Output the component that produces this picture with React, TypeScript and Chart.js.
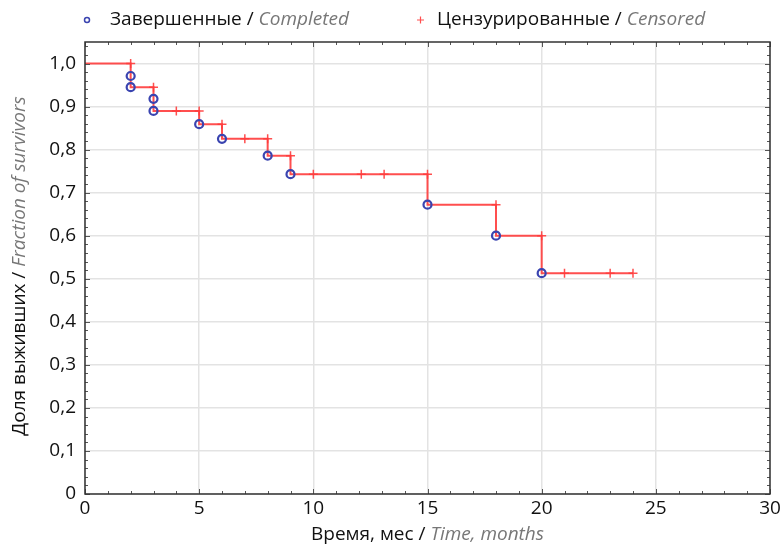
import React, { useEffect, useRef } from "react";
import { Chart, registerables } from "chart.js";

Chart.register(...registerables);

// ---- data ----
const eventTimes = [2, 2, 3, 3, 5, 6, 8, 9, 15, 18, 20];
const eventSurvival = [0.971, 0.945, 0.918, 0.89, 0.859, 0.825, 0.786, 0.743, 0.672, 0.6, 0.513];
const censorTimes = [2, 3, 4, 5, 6, 7, 8, 9, 10, 12.1, 13.1, 15, 18, 20, 21, 23, 24];
const censorSurvival = [1.0, 0.945, 0.89, 0.89, 0.859, 0.825, 0.825, 0.786, 0.743, 0.743, 0.743, 0.743, 0.672, 0.6, 0.513, 0.513, 0.513];
const curveEnd = 24;
const xTicks = [0, 5, 10, 15, 20, 25, 30];
const yTicks = [0, 0.1, 0.2, 0.3, 0.4, 0.5, 0.6, 0.7, 0.8, 0.9, 1.0];

const FONT = "'Open Sans', 'Noto Sans', sans-serif";
const RED = "rgba(255,60,60,0.9)";
const BLUE = "#3a44b0";

type Part = { text: string; italic?: boolean; color: string };

function measureParts(ctx: CanvasRenderingContext2D, parts: Part[], size: number) {
  let w = 0;
  for (const p of parts) {
    ctx.font = `${p.italic ? "italic " : ""}${size}px ${FONT}`;
    w += ctx.measureText(p.text).width;
  }
  return w;
}

function drawParts(ctx: CanvasRenderingContext2D, parts: Part[], x: number, y: number, size: number) {
  let cx = x;
  ctx.textBaseline = "middle";
  ctx.textAlign = "left";
  for (const p of parts) {
    ctx.font = `${p.italic ? "italic " : ""}${size}px ${FONT}`;
    ctx.fillStyle = p.color;
    ctx.fillText(p.text, cx, y);
    cx += ctx.measureText(p.text).width;
  }
}

const framePlugin = {
  id: "framePlugin",
  afterDraw(chart: any) {
    const ctx: CanvasRenderingContext2D = chart.ctx;
    const { left, right, top, bottom } = chart.chartArea;
    const xs = chart.scales.x;
    const ys = chart.scales.y;
    ctx.save();
    // inward ticks
    ctx.strokeStyle = "#555";
    ctx.lineWidth = 1;
    for (let v = 0; v <= 30; v += 1) {
      const px = Math.round(xs.getPixelForValue(v)) + 0.5;
      const len = v % 5 === 0 ? 5 : 3;
      ctx.beginPath();
      ctx.moveTo(px, bottom);
      ctx.lineTo(px, bottom - len);
      ctx.moveTo(px, top);
      ctx.lineTo(px, top + len);
      ctx.stroke();
    }
    for (let i = 0; i <= 52; i++) {
      const v = i / 50;
      const py = Math.round(ys.getPixelForValue(v)) + 0.5;
      const len = i % 5 === 0 ? 5 : 3;
      ctx.beginPath();
      ctx.moveTo(left, py);
      ctx.lineTo(left + len, py);
      ctx.moveTo(right, py);
      ctx.lineTo(right - len, py);
      ctx.stroke();
    }
    // frame
    ctx.strokeStyle = "#333";
    ctx.lineWidth = 1.5;
    ctx.strokeRect(left, top, right - left, bottom - top);

    // axis titles
    const size = 19;
    const xParts: Part[] = [
      { text: "Время, мес / ", color: "#111" },
      { text: "Time, months", italic: true, color: "#777" },
    ];
    const xw = measureParts(ctx, xParts, size);
    drawParts(ctx, xParts, (left + right) / 2 - xw / 2, 535, size);

    const yParts: Part[] = [
      { text: "Доля выживших / ", color: "#111" },
      { text: "Fraction of survivors", italic: true, color: "#777" },
    ];
    const yw = measureParts(ctx, yParts, size);
    ctx.save();
    ctx.translate(20, (top + bottom) / 2 - 2);
    ctx.rotate(-Math.PI / 2);
    drawParts(ctx, yParts, -yw / 2, 0, size);
    ctx.restore();

    // legend
    const ly = 20;
    ctx.strokeStyle = BLUE;
    ctx.lineWidth = 1.5;
    ctx.beginPath();
    ctx.arc(87, ly, 2.5, 0, Math.PI * 2);
    ctx.stroke();
    drawParts(ctx, [
      { text: "Завершенные / ", color: "#111" },
      { text: "Completed", italic: true, color: "#777" },
    ], 110, ly, size);
    ctx.strokeStyle = RED;
    ctx.lineWidth = 1.2;
    ctx.beginPath();
    ctx.moveTo(417, ly);
    ctx.lineTo(424, ly);
    ctx.moveTo(420.5, ly - 3.5);
    ctx.lineTo(420.5, ly + 3.5);
    ctx.stroke();
    drawParts(ctx, [
      { text: "Цензурированные / ", color: "#111" },
      { text: "Censored", italic: true, color: "#777" },
    ], 437, ly, size);
    ctx.restore();
  },
};

export default function App() {
  const ref = useRef<HTMLCanvasElement | null>(null);
  useEffect(() => {
    document.body.style.margin = "0";
    if (!ref.current) return;
    const curveX = [0, ...eventTimes, curveEnd];
    const curveY = [1, ...eventSurvival, eventSurvival[eventSurvival.length - 1]];
    const chart = new Chart(ref.current, {
      type: "scatter",
      data: {
        datasets: [
          {
            type: "line",
            label: "curve",
            data: curveX.map((x, i) => ({ x, y: curveY[i] })),
            stepped: "before",
            borderColor: RED,
            borderWidth: 2,
            pointRadius: 0,
            fill: false,
            order: 3,
          } as any,
          {
            label: "Цензурированные / Censored",
            data: censorTimes.map((x, i) => ({ x, y: censorSurvival[i] })),
            pointStyle: "cross",
            pointRadius: 4.5,
            borderColor: RED,
            borderWidth: 1.5,
            order: 2,
          },
          {
            label: "Завершенные / Completed",
            data: eventTimes.map((x, i) => ({ x, y: eventSurvival[i] })),
            pointStyle: "circle",
            pointRadius: 4,
            borderColor: BLUE,
            backgroundColor: "rgba(0,0,0,0)",
            borderWidth: 2.2,
            order: 1,
          },
        ],
      },
      options: {
        responsive: false,
        animation: false,
        layout: { padding: { top: 42, right: 10, left: 0, bottom: 0 } },
        plugins: { legend: { display: false }, tooltip: { enabled: false } },
        scales: {
          x: {
            type: "linear",
            min: 0,
            max: 30,
            afterBuildTicks: (s: any) => {
              s.ticks = xTicks.map((v) => ({ value: v }));
            },
            afterFit: (s: any) => {
              s.height = 51;
              s.paddingLeft = 0;
              s.paddingRight = 0;
            },
            ticks: {
              font: { family: FONT, size: 19 },
              color: "#111",
              padding: 3,
              maxRotation: 0,
            },
            grid: { color: "#e3e3e3", lineWidth: 1.5, drawTicks: false },
            border: { display: false },
          },
          y: {
            type: "linear",
            min: 0,
            max: 1.05,
            afterBuildTicks: (s: any) => {
              s.ticks = yTicks.map((v) => ({ value: v }));
            },
            afterFit: (s: any) => {
              s.width = 85;
              s.paddingTop = 0;
              s.paddingBottom = 0;
            },
            ticks: {
              font: { family: FONT, size: 19 },
              color: "#111",
              padding: 9,
              callback: (v: any) => (Number(v) === 0 ? "0" : Number(v).toFixed(1).replace(".", ",")),
            },
            grid: { color: "#e3e3e3", lineWidth: 1.5, drawTicks: false },
            border: { display: false },
          },
        },
      },
      plugins: [framePlugin],
    });
    return () => chart.destroy();
  }, []);
  return (
    <div style={{ width: 780, height: 545, position: "relative", background: "#fff" }}>
      <canvas ref={ref} width={780} height={545} />
    </div>
  );
}
